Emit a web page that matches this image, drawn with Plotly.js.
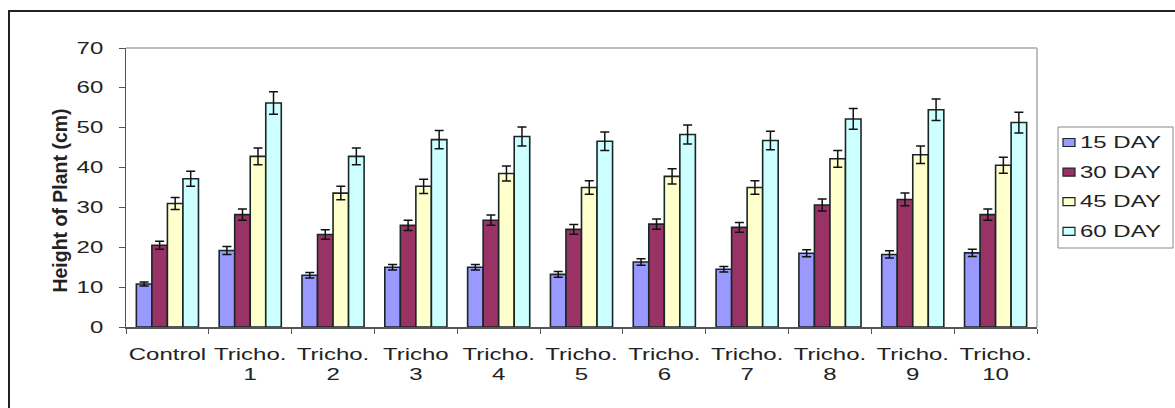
<!DOCTYPE html>
<html>
<head>
<meta charset="utf-8">
<script src="https://cdn.plot.ly/plotly-3.0.1.min.js"></script>
<style>
  html, body { margin: 0; padding: 0; background: #fff; }
  #chart { position: absolute; left: 0; top: 0; width: 1175px; height: 408px; }
  #frame { position: absolute; left: 8px; top: 10px; width: 1200px; height: 420px;
           border: 2px solid #222; pointer-events: none; }
</style>
</head>
<body>
<div id="chart"></div>
<div id="frame"></div>
<script>
const categories = ["Control", "Tricho.<br>1", "Tricho.<br>2", "Tricho<br>3", "Tricho.<br>4",
  "Tricho.<br>5", "Tricho.<br>6", "Tricho.<br>7", "Tricho.<br>8", "Tricho.<br>9", "Tricho.<br>10"];
const seriesNames = ["15 DAY", "30 DAY", "45 DAY", "60 DAY"];
const day15 = [10.8, 19.2, 13, 15, 15, 13.2, 16.3, 14.5, 18.5, 18.2, 18.6];
const day30 = [20.5, 28.2, 23.2, 25.5, 26.8, 24.5, 25.8, 25, 30.6, 32, 28.2];
const day45 = [31, 42.8, 33.6, 35.3, 38.5, 35, 37.8, 35, 42.2, 43.2, 40.6];
const day60 = [37.2, 56.2, 42.8, 47, 47.8, 46.6, 48.3, 46.8, 52.2, 54.5, 51.3];
const err15 = [0.5, 1, 0.7, 0.7, 0.7, 0.7, 0.8, 0.7, 0.9, 0.9, 0.9];
const err30 = [1, 1.4, 1.2, 1.3, 1.3, 1.2, 1.3, 1.2, 1.5, 1.6, 1.4];
const err45 = [1.5, 2.1, 1.7, 1.8, 1.9, 1.7, 1.9, 1.7, 2.1, 2.2, 2];
const err60 = [1.9, 2.8, 2.1, 2.3, 2.4, 2.3, 2.4, 2.3, 2.6, 2.7, 2.6];
const values = [day15, day30, day45, day60];
const errors = [err15, err30, err45, err60];
const colors = ["#9999FF", "#993366", "#FFFFCC", "#CCFFFF"];

// plot-area geometry (pixels)
const W = 1175, H = 408;
const M = { l: 126, r: 138, t: 48, b: 81 };
const pw = W - M.l - M.r, ph = H - M.t - M.b;
const px2x = px => (px - M.l) / pw;
const py2y = py => (H - M.b - py) / ph;

const traces = seriesNames.map((name, i) => ({
  type: "bar",
  name: name,
  x: categories,
  y: values[i],
  marker: { color: colors[i], line: { color: "#1a2626", width: 1.6 } },
  error_y: { type: "data", array: errors[i], visible: true, color: "#111", thickness: 1.5, width: 4.5 }
}));

// custom legend (box, swatches, labels)
const shapes = [
  { type: "line", xref: "paper", yref: "paper", x0: 0, x1: 1, y0: 1, y1: 1, line: { color: "#aaa", width: 1.5 } },
  { type: "line", xref: "paper", yref: "paper", x0: 1, x1: 1, y0: 0, y1: 1, line: { color: "#aaa", width: 1.5 } },
  { type: "rect", xref: "paper", yref: "paper", x0: px2x(1058), x1: px2x(1173), y0: py2y(127), y1: py2y(248),
    line: { color: "#888", width: 1 }, fillcolor: "#fff" }
];
const annotations = [];
seriesNames.forEach((name, i) => {
  const cy = 142.5 + i * 29.6;
  shapes.push({ type: "rect", xref: "paper", yref: "paper",
    x0: px2x(1063), x1: px2x(1075), y0: py2y(cy - 4), y1: py2y(cy + 4),
    line: { color: "#1a2626", width: 1.2 }, fillcolor: colors[i] });
  annotations.push({ xref: "paper", yref: "paper", x: px2x(1078), y: py2y(cy),
    xanchor: "left", yanchor: "middle", showarrow: false, text: name,
    font: { size: 16, color: "#222" } });
});

const layout = {
  width: W, height: H,
  margin: M,
  paper_bgcolor: "#fff",
  plot_bgcolor: "#fff",
  barmode: "group",
  bargap: 0.25,
  bargroupgap: 0,
  showlegend: false,
  font: { family: "Liberation Sans, Arial, sans-serif", color: "#222" },
  xaxis: {
    type: "category",
    tickson: "boundaries",
    ticks: "outside", ticklen: 5, tickcolor: "#555",
    showline: true, linecolor: "#555", linewidth: 1.5,
    showgrid: false,
    ticklabelstandoff: 12,
    tickfont: { size: 16, color: "#222" },
    tickangle: 0
  },
  yaxis: {
    range: [0, 70], dtick: 10,
    ticks: "outside", ticklen: 6, tickcolor: "#555",
    showline: true, linecolor: "#555", linewidth: 1.5,
    showgrid: false, zeroline: false,
    ticklabelstandoff: 12,
    tickfont: { size: 16, color: "#222" },
    title: { text: "<b>Height of Plant (cm)</b>", font: { size: 19.5, color: "#222" }, standoff: 12 }
  },
  shapes: shapes,
  annotations: annotations
};

function stretch(el, s, anchor) {
  const bb = el.getBBox();
  const cx = anchor === "left" ? bb.x : anchor === "right" ? bb.x + bb.width : bb.x + bb.width / 2;
  const old = el.getAttribute("transform") || "";
  el.setAttribute("transform", old + ` translate(${cx},0) scale(${s},1) translate(${-cx},0)`);
}

Plotly.newPlot("chart", traces, layout, { displayModeBar: false, staticPlot: true }).then(gd => {
  const S = 1.5;
  gd.querySelectorAll(".xtick text").forEach(t => stretch(t, S, "center"));
  gd.querySelectorAll(".ytick text").forEach(t => stretch(t, S, "right"));
  gd.querySelectorAll(".annotation-text").forEach(t => stretch(t, S, "left"));
  // the reference's axis title sits slightly below the plot's vertical centre
  gd.querySelectorAll(".ytitle").forEach(t => {
    const old = t.getAttribute("transform") || "";
    t.setAttribute("transform", "translate(0,13) " + old);
  });
});
</script>
</body>
</html>
